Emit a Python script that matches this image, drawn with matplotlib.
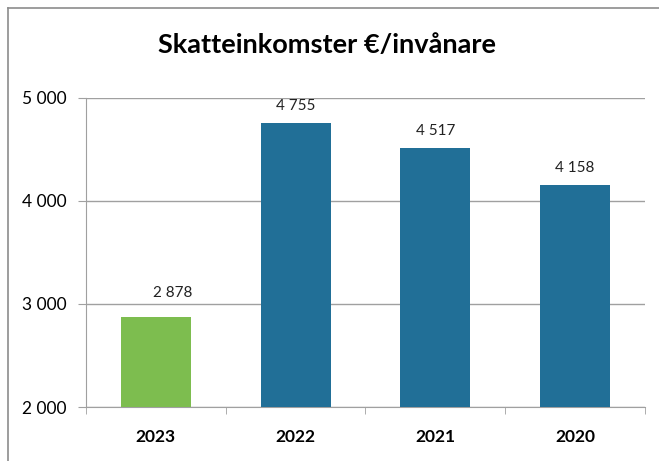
import matplotlib
matplotlib.use("Agg")
import matplotlib.pyplot as plt
from matplotlib.ticker import FuncFormatter
from matplotlib.lines import Line2D

years = ["2023", "2022", "2021", "2020"]
values = [2878, 4755, 4517, 4158]
colors = ["#7dbd4f", "#216f97", "#216f97", "#216f97"]
yticks = [2000, 3000, 4000, 5000]
# label offsets in pixels (the 2023 label sits shifted in the original)
label_dx = [17, 0, 0, 0]
label_dy = [17, 10, 10, 10]

plt.rcParams['font.family'] = ['Lato', 'DejaVu Sans']

W, H = 659, 461
fig = plt.figure(figsize=(W / 100, H / 100), dpi=100)

# outer frame (left and top edges visible)
fig.add_artist(Line2D([8 / W, 8 / W], [0, 1 - 8 / H], color="#8c8c8c", lw=1.2, transform=fig.transFigure))
fig.add_artist(Line2D([8 / W, 1], [1 - 8 / H, 1 - 8 / H], color="#8c8c8c", lw=1.2, transform=fig.transFigure))

left, right, top, bottom = 86, 645, 98, 407
ax = fig.add_axes([left / W, 1 - bottom / H, (right - left) / W, (bottom - top) / H])

x = range(len(years))
bars = ax.bar(x, values, width=0.5, color=colors, zorder=3)
for xi, v, dx, dy in zip(x, values, label_dx, label_dy):
    ax.annotate(f"{v:,}".replace(",", " "), (xi, v), xytext=(dx * 0.72, dy * 0.72),
                textcoords="offset points", ha="center", va="bottom", fontsize=11, color="#222222")

ax.set_xlim(-0.5, len(years) - 0.5)
ax.set_ylim(2000, 5000)
ax.set_yticks(yticks)
ax.yaxis.set_major_formatter(FuncFormatter(lambda v, p: f"{int(v):,}".replace(",", " ")))
ax.grid(axis="y", color="#a0a0a0", lw=1, zorder=0)

ax.set_xticks(list(x))
ax.set_xticklabels(years, fontsize=12.5, fontweight="bold")
ax.set_xticks([i + 0.5 for i in range(-1, len(years))], minor=True)
ax.tick_params(axis="x", which="major", length=0, pad=16)
ax.tick_params(axis="x", which="minor", length=5, direction="out", color="#a0a0a0")
ax.tick_params(axis="y", length=6, color="#a0a0a0", labelsize=12.5, pad=8)

for s in ["top", "right"]:
    ax.spines[s].set_visible(False)
ax.spines["left"].set_color("#a0a0a0")
ax.spines["bottom"].set_color("#a0a0a0")

fig.text(327 / W, 1 - 45 / H, "Skatteinkomster €/invånare", ha="center", va="center",
         fontsize=19.5, fontweight="bold")

fig.savefig("out.png", dpi=100)
